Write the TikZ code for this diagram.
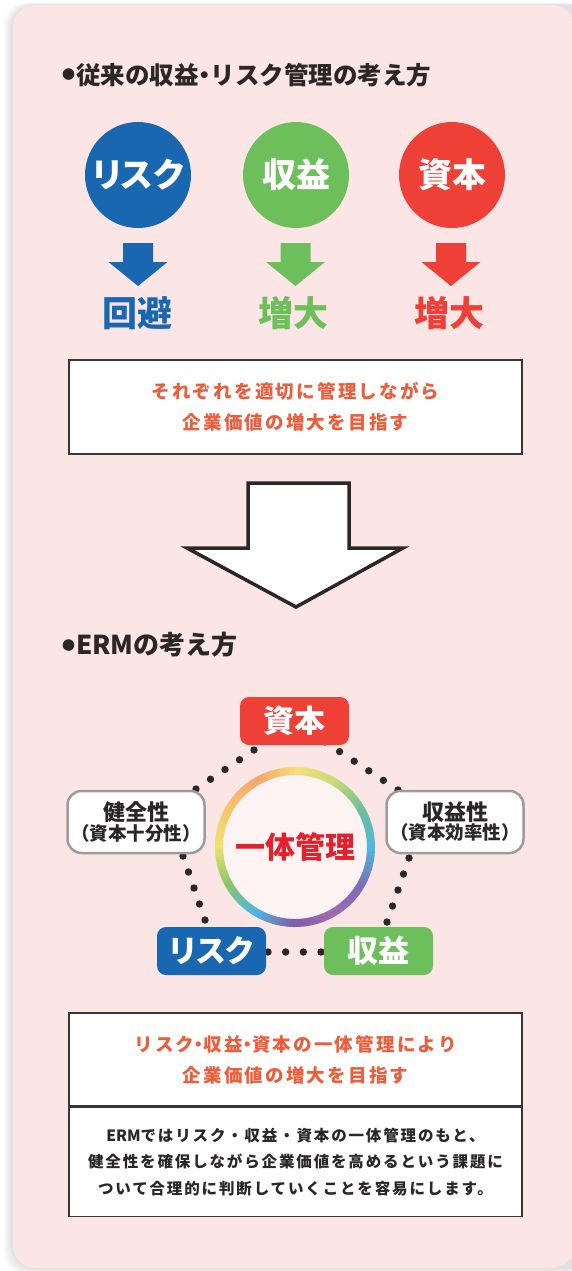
\documentclass[tikz,border=0pt]{standalone}
\usepackage{fontspec}
\setmainfont{Noto Sans CJK JP}
\usetikzlibrary{calc}
\newcommand\jfs[2]{\fontsize{#1}{#2}\selectfont}
\newcommand\bigbul{\raisebox{4.5pt}{\jfs{13}{13}\addfontfeature{RawFeature=+palt}●}\hspace{1pt}}
\newcommand\nardot{{\addfontfeature{RawFeature=+palt}・}}
\definecolor{pinkbg}{HTML}{FCE5E5}
\definecolor{darktxt}{HTML}{2B2627}
\definecolor{rblue}{HTML}{1A67B1}
\definecolor{rgreen}{HTML}{6CBF5B}
\definecolor{rred}{HTML}{EE4037}
\definecolor{orangetxt}{HTML}{EE5D3B}
\definecolor{boxline}{HTML}{3A3536}
\definecolor{grayline}{HTML}{9C9C9C}
\definecolor{ittai}{HTML}{E5202A}
\definecolor{corefill}{HTML}{FDF3F3}
% ring stops
\definecolor{rA}{HTML}{4FB7E0}
\definecolor{rB}{HTML}{7D6DB5}
\definecolor{rC}{HTML}{9F6AAE}
\definecolor{rD}{HTML}{7F5EA8}
\definecolor{rE}{HTML}{4EB6E5}
\definecolor{rF}{HTML}{8CC56C}
\definecolor{rG}{HTML}{F2E270}
\definecolor{rH}{HTML}{F7C36F}
\definecolor{rI}{HTML}{F5A66C}
\definecolor{rJ}{HTML}{F7DD7A}
\definecolor{rK}{HTML}{CADB79}
\definecolor{rL}{HTML}{6FBE97}
\begin{document}
\begin{tikzpicture}[x=1pt,y=-1pt,
  titletxt/.style={anchor=west, inner sep=0, text=darktxt},
  circlab/.style={circle, minimum size=106, inner sep=0, text=white, font=\bfseries\jfs{34}{40}},
  arrowlab/.style={inner sep=0, font=\bfseries\jfs{35}{40}},
  msgbox/.style={draw=boxline, line width=1.3, fill=white, minimum width=453, inner sep=0, align=center},
  orangemsg/.style={text=orangetxt, font=\bfseries\jfs{18.5}{31}\addfontfeature{LetterSpace=12}},
  tagbox/.style={rounded corners=9, minimum width=109, minimum height=48, inner sep=0, text=white, font=\bfseries\jfs{31}{36}},
  propbox/.style={draw=grayline, line width=2.5, fill=white, rounded corners=14, minimum width=137, minimum height=62, inner sep=0, align=center, text=darktxt, font=\bfseries},
  dotfill/.style={fill=darktxt}
]
\useasboundingbox (0,0) rectangle (572,1271);
\fill[white] (0,0) rectangle (572,1271);
% shadow
\foreach \k in {1,...,6}{
  \fill[black, opacity=0.018, rounded corners=24] (13-\k*1.6,5-\k*0.4) rectangle (590,1268+\k*1.2);
}
\fill[pinkbg, rounded corners=22] (13,5) rectangle (574,1268);

% ---------- Section 1 ----------
\node[titletxt, font=\bfseries\jfs{24.5}{28}] (t1) at (62,75) {\bigbul 従来の収益\nardot リスク管理の考え方};

\node[circlab, fill=rblue] (c1) at (138,175) {\addfontfeature{RawFeature=+palt}リスク};
\node[circlab, fill=rgreen] (c2) at (296,175) {収益};
\node[circlab, fill=rred] (c3) at (452,175) {資本};

\foreach \c/\col [count=\j] in {138/rblue, 295.5/rgreen, 451/rred}{
  \coordinate (ar\j) at (\c,243);
  \fill[\col] (ar\j) ++(-15,0) -- ++(30,0) -- ++(0,19) -- ++(14.5,0) -- ++(-29.5,24) -- ++(-29.5,-24) -- ++(14.5,0) -- cycle;
}

\node[arrowlab, text=rblue] (l1) at (137,313) {回避};
\node[arrowlab, text=rgreen] (l2) at (293,313) {増大};
\node[arrowlab, text=rred] (l3) at (449,313) {増大};

\node[msgbox, orangemsg, minimum height=94] (m1) at (295.5,407) {それぞれを適切に管理しながら\\企業価値の増大を目指す};

% big arrow
\coordinate (ba1) at (248,483);
\coordinate (ba2) at (349,483);
\coordinate (ba3) at (349,548);
\coordinate (ba4) at (403,548);
\coordinate (batip) at (296,607);
\coordinate (ba5) at (187,548);
\coordinate (ba6) at (248,548);
\draw[fill=white, draw=darktxt, line width=3.5, line join=miter] (ba1) -- (ba2) -- (ba3) -- (ba4) -- (batip) -- (ba5) -- (ba6) -- cycle;

% ---------- Section 2 ----------
\node[titletxt, font=\bfseries\jfs{26}{30}] (t2) at (62,645) {\bigbul ERMの考え方};

% dotted links (behind boxes)
\coordinate (d1a) at (254,750); \coordinate (d1b) at (196,789);
\coordinate (d2a) at (325,742); \coordinate (d2b) at (398,790);
\coordinate (d3a) at (409,858); \coordinate (d3b) at (387,922);
\coordinate (d4a) at (183,856); \coordinate (d4b) at (205,920);
\coordinate (d5a) at (268,952); \coordinate (d5b) at (321,952);
\foreach \a/\b/\n in {d1a/d1b/4, d2a/d2b/5, d3a/d3b/4, d4a/d4b/4, d5a/d5b/3}{
  \foreach \i in {0,...,\n}{
    \fill[dotfill] ($(\a)!{\i/\n}!(\b)$) circle (3.7);
  }
}

\node[tagbox, fill=rred] (shihon) at (294.5,721) {資本};
\node[tagbox, fill=rblue] (risk) at (211.5,951) {\addfontfeature{RawFeature=+palt}リスク};
\node[tagbox, fill=rgreen] (shueki) at (378.5,951) {収益};
\node[propbox] (kenzen) at (136,822) {\jfs{22}{23}健全性\\\jfs{18.5}{23}（資本十分性）};
\node[propbox] (shuekisei) at (455,822) {\jfs{22}{23}収益性\\\jfs{18.5}{23}（資本効率性）};

% center ring
\node[circle, fill=corefill, minimum size=152, inner sep=0, text=ittai, font=\bfseries\jfs{30}{34}] (core) at (295,847) {一体管理};
\foreach \a/\ca/\cb in {0/rA/rB, 30/rB/rC, 60/rC/rD, 90/rD/rE, 120/rE/rF, 150/rF/rG, 180/rG/rH, 210/rH/rI, 240/rI/rJ, 270/rJ/rK, 300/rK/rL, 330/rL/rA}{
  \foreach \k in {0,...,14}{
    \pgfmathsetmacro\p{\k*100/15}
    \pgfmathsetmacro\st{\a+\k*2}
    \draw[line width=8, color=\cb!\p!\ca] (core.center) ++(\st:76) arc[start angle=\st, end angle=\st+2.5, radius=76];
  }
}

% ---------- bottom box ----------
\node[msgbox, orangemsg, minimum height=93] (m2) at (295.5,1059.5) {リスク\nardot 収益\nardot 資本の一体管理により\\企業価値の増大を目指す};
\node[msgbox, minimum height=109, anchor=north, text=darktxt, font=\bfseries\jfs{15.5}{26.5}\addfontfeature{LetterSpace=12}] (m3) at (m2.south) {{\addfontfeature{LetterSpace=0}ERM}ではリスク・収益・資本の一体管理のもと、\\健全性を確保しながら企業価値を高めるという課題に\\ついて合理的に判断していくことを容易にします。};
\end{tikzpicture}
\end{document}
